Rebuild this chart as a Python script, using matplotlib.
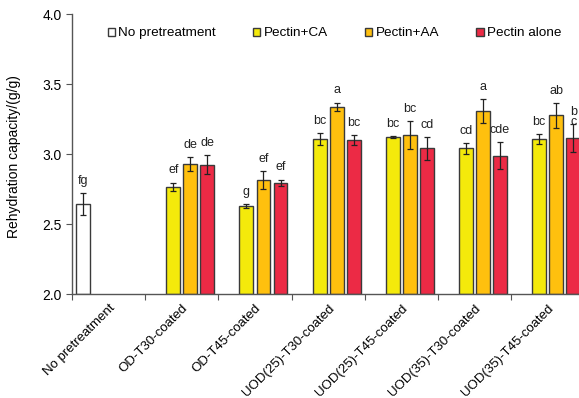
import numpy as np
import matplotlib.pyplot as plt

plt.rcParams['font.family'] = ['Liberation Sans', 'DejaVu Sans']

# data
categories = ['No pretreatment', 'OD-T30-coated', 'OD-T45-coated', 'UOD(25)-T30-coated',
              'UOD(25)-T45-coated', 'UOD(35)-T30-coated', 'UOD(35)-T45-coated']
series = ['No pretreatment', 'Pectin+CA', 'Pectin+AA', 'Pectin alone']

no_pre = [2.643]
no_pre_err = [0.08]
no_pre_lab = ['fg']

ca = [2.766, 2.629, 3.107, 3.121, 3.040, 3.107]
ca_err = [0.03, 0.015, 0.04, 0.005, 0.038, 0.037]
ca_lab = ['ef', 'g', 'bc', 'bc', 'cd', 'bc']

aa = [2.929, 2.812, 3.338, 3.133, 3.307, 3.276]
aa_err = [0.048, 0.064, 0.029, 0.10, 0.083, 0.09]
aa_lab = ['de', 'ef', 'a', 'bc', 'a', 'ab']

alone = [2.924, 2.793, 3.100, 3.040, 2.988, 3.116]
alone_err = [0.07, 0.024, 0.033, 0.08, 0.095, 0.10]
alone_lab = ['de', 'ef', 'bc', 'cd', 'cde', 'b\nc']

colors = ['white', '#F4EA0B', '#FFC00E', '#EC2A45']

fig = plt.figure(figsize=(5.79, 3.98), dpi=100)
ax = fig.add_axes([0.1244, 0.2613, 0.8846, 0.7035])

slot = 0.233
bw = 0.19
edge = '#3a3a3a'

def draw(xs, vals, errs, labs, k):
    pos = np.array(xs) + 0.5 + (k - 1.5) * slot
    ax.bar(pos, np.array(vals) - 2.0, bottom=2.0, width=bw, color=colors[k],
           edgecolor=edge, linewidth=1.0, label=series[k], zorder=2)
    ax.errorbar(pos, vals, yerr=errs, fmt='none', ecolor='#222222',
                elinewidth=0.9, capsize=2.5, capthick=0.9, zorder=3)
    for p, v, e, t in zip(pos, vals, errs, labs):
        ax.text(p, v + e + 0.13, t, ha='center', va='top', fontsize=9,
                color='#222222', linespacing=0.85, zorder=1)

draw([0], no_pre, no_pre_err, no_pre_lab, 0)
idx = list(range(1, 7))
draw(idx, ca, ca_err, ca_lab, 1)
draw(idx, aa, aa_err, aa_lab, 2)
draw(idx, alone, alone_err, alone_lab, 3)

ax.set_xlim(0, 7)
ax.set_ylim(2.0, 4.0)
ax.set_yticks([2.0, 2.5, 3.0, 3.5, 4.0])
ax.set_yticklabels(['2.0', '2.5', '3.0', '3.5', '4.0'], fontsize=10)
ax.set_xticks(np.arange(0, 7))
ax.set_xticklabels([])
ax.set_xticks(np.arange(7) + 0.5, minor=True)
ax.set_xticklabels(categories, minor=True, rotation=45, ha='right',
                   rotation_mode='anchor', fontsize=9.5)
ax.tick_params(axis='x', which='minor', length=0, pad=6)
ax.tick_params(axis='x', which='major', length=4, direction='out', color='#555555')
ax.tick_params(axis='y', length=4, direction='out', color='#555555')

for s in ['top', 'right']:
    ax.spines[s].set_visible(False)
for s in ['left', 'bottom']:
    ax.spines[s].set_color('#555555')
    ax.spines[s].set_linewidth(1.0)

ax.set_ylabel('Rehydration capacity/(g/g)', fontsize=10)
ax.yaxis.set_label_coords(-0.1, 0.49)

ax.legend(loc='upper left', bbox_to_anchor=(0.043, 1.0), ncol=4, frameon=False,
          fontsize=9.7, handlelength=0.55, handleheight=0.55, handletextpad=0.25,
          columnspacing=2.75, borderaxespad=0.6)

fig.savefig('out.png', dpi=100)
